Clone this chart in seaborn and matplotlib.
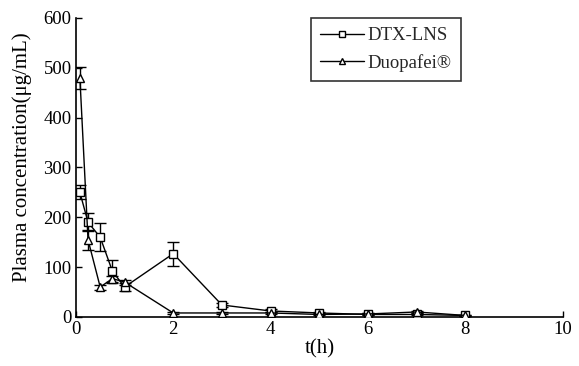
import matplotlib
matplotlib.use("Agg")
import matplotlib.pyplot as plt
import seaborn as sns
import pandas as pd
import numpy as np

time_h = [0.083, 0.25, 0.5, 0.75, 1, 2, 3, 4, 5, 6, 7, 8]
dtx_lns = [250, 190, 160, 92, 60, 127, 24, 12, 8, 5, 5, 3]
dtx_err = [14, 18, 28, 23, 8, 24, 5, 3, 2, 2, 2, 1]
duopafei = [480, 155, 60, 77, 70, 8, 8, 8, 5, 6, 10, 3]
duo_err = [22, 20, 5, 6, 5, 2, 2, 2, 2, 2, 2, 1]
x_ticks = [0, 2, 4, 6, 8, 10]
y_ticks = [0, 100, 200, 300, 400, 500, 600]

sns.set_theme(style="white")
plt.rcParams['font.family'] = ['Liberation Serif', 'DejaVu Serif']

df = pd.DataFrame({
    "t": time_h * 2,
    "c": dtx_lns + duopafei,
    "group": ["DTX-LNS"] * len(time_h) + ["Duopafei®"] * len(time_h),
})

fig = plt.figure(figsize=(5.79, 3.66), dpi=100)
ax = fig.add_axes([0.131, 0.134, 0.841, 0.817])

sns.lineplot(data=df, x="t", y="c", hue="group", style="group",
             markers={"DTX-LNS": "s", "Duopafei®": "^"}, dashes=False,
             palette={"DTX-LNS": "black", "Duopafei®": "black"},
             markerfacecolor="white", markeredgecolor="black", markersize=6,
             markeredgewidth=1.0, linewidth=1.0, ax=ax, zorder=3)

ax.errorbar(time_h, dtx_lns, yerr=dtx_err, fmt="none", ecolor="black",
            elinewidth=1.0, capsize=4, capthick=1.0, zorder=2)
ax.errorbar(time_h, duopafei, yerr=duo_err, fmt="none", ecolor="black",
            elinewidth=1.0, capsize=4, capthick=1.0, zorder=2)

ax.set_xlim(0, 10)
ax.set_ylim(0, 600)
ax.set_xticks(x_ticks)
ax.set_yticks(y_ticks)
ax.tick_params(direction="in", length=4, width=1, labelsize=13.5, colors="black",
               left=True, bottom=True, pad=3)
for s in ["top", "right"]:
    ax.spines[s].set_visible(False)
for s in ["left", "bottom"]:
    ax.spines[s].set_color("black")
    ax.spines[s].set_linewidth(1.2)

ax.set_xlabel("t(h)", fontsize=15, color="black", labelpad=1)
ax.set_ylabel("Plasma concentration(μg/mL)", fontsize=15, color="black")
ax.yaxis.set_label_coords(-0.09, 0.535)

leg = ax.legend(loc="upper left", bbox_to_anchor=(0.483, 1.0), frameon=True,
                fancybox=False, edgecolor="black", fontsize=13.5, handlelength=2.3,
                borderpad=0.5, labelspacing=0.5, handletextpad=0.2, borderaxespad=0)
leg.get_frame().set_linewidth(1.2)
for h in leg.legend_handles:
    h.set_markerfacecolor("white")
    h.set_markeredgecolor("black")
    h.set_markersize(4.5)

fig.savefig("out.png", dpi=100)
